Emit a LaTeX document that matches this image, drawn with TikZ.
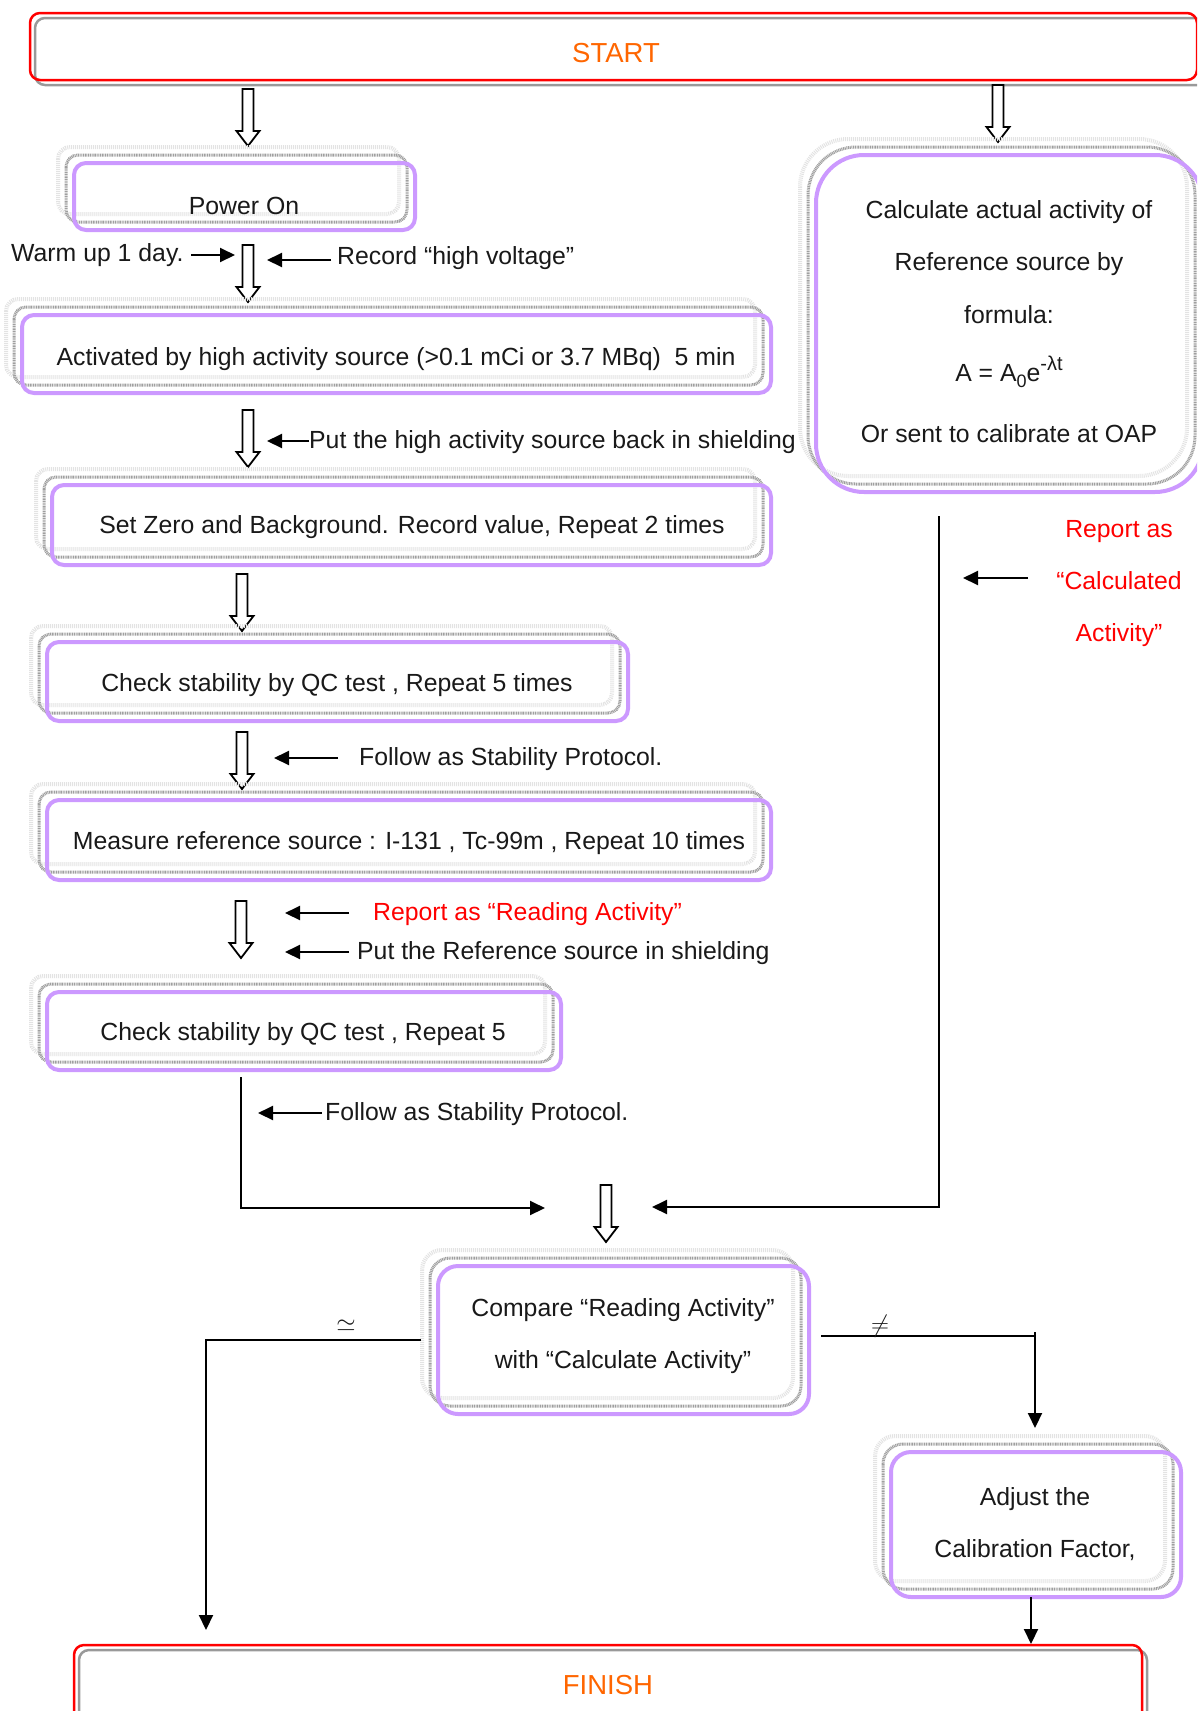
\documentclass[tikz,border=0pt]{standalone}
\usepackage{fontspec}
\setmainfont{Liberation Sans}
\usetikzlibrary{arrows.meta,calc}
\definecolor{lavender}{RGB}{204,153,255}
\definecolor{startorange}{RGB}{255,102,0}
\def\hollowdown(#1,#2){\draw[hollow] (#1-5.5,#2) -- (#1+5.5,#2) -- (#1+5.5,#2+42) -- (#1+11.5,#2+42) -- (#1,#2+57) -- (#1-11.5,#2+42) -- (#1-5.5,#2+42) -- cycle;}
\def\layerbox(#1,#2)(#3,#4)[#5]{%
	\draw[lightlayer, rounded corners=#5] (#1-16,#2-16) rectangle (#3-16,#4-16);
	\draw[darklayer, rounded corners=#5] (#1-8,#2-8) rectangle (#3-8,#4-8);
	\draw[purpleline, rounded corners=#5] (#1,#2) rectangle (#3,#4);}

\begin{document}
\begin{tikzpicture}[x=1pt, y=-1pt,
	txt/.style={font=\fontsize{24.8}{52}\selectfont, text=black!90, inner sep=0pt, align=center},
	redtxt/.style={txt, text=red},
	endtxt/.style={font=\fontsize{27.5}{30}\selectfont, text=startorange, inner sep=0pt},
	conn/.style={line width=2pt, -{Triangle[length=15pt, width=14pt]}},
	hollow/.style={line width=1.8pt, fill=white, line join=miter},
	lightlayer/.style={draw=gray!22, line width=4pt, dash pattern=on 1pt off 1pt},
	darklayer/.style={draw=gray!75, line width=3pt, dash pattern=on 1pt off 0.7pt},
	purpleline/.style={draw=lavender, line width=4pt},
	redframe/.style={draw=red, line width=2.5pt, rounded corners=10pt},
	grayframe/.style={draw=gray!80, line width=2.5pt, rounded corners=10pt}]
		%%%%% FRAME %%%%%
		\path[use as bounding box, clip] (0,0) rectangle (1197,1711);
		\fill[white] (0,0) rectangle (1197,1711);
		
		%%%%% START %%%%%
		\draw[grayframe] (35,18) rectangle (1210,85);
		\draw[redframe] (30,13) rectangle (1197,80);
		\node[endtxt] (start) at (616,53) {START};
		
		\hollowdown(248,89);
		\hollowdown(998,85);
		
		%%%%% LEFT COLUMN %%%%%
		\layerbox(74,163)(415,230)[12pt];
		\node[txt] (power) at (244,206) {Power On};
		
		\node[txt, anchor=west] (warmup) at (11,255) {Warm up 1 day.};
		\node[txt, anchor=west] (record) at (337,258) {Record “high voltage”};
		\draw[conn] (191,255) -- (235,255);
		\hollowdown(248,245);
		\draw[conn] ([xshift=-6pt, yshift=-2pt]record.west) -- ++(-64,0);
		
		\layerbox(22,315)(771,393)[12pt];
		\node[txt] (activ) at (396,359) {Activated by high activity source (>0.1 mCi or 3.7 MBq)\ \ 5 min};
		
		\hollowdown(248,410);
		\node[txt, anchor=west] (putback) at (309,442) {Put the high activity source back in shielding};
		\draw[conn] ([yshift=1pt]putback.west) -- ++(-42,0);
		
		\layerbox(52,485)(771,565)[12pt];
		\node[txt] (setzero) at (412,527) {Set Zero and Background. Record value, Repeat 2 times};
		
		\hollowdown(242,574);
		
		\layerbox(47,642)(628,721)[12pt];
		\node[txt] (check1) at (337,685) {Check stability by QC test , Repeat 5 times};
		
		\hollowdown(242,732);
		\node[txt, anchor=west] (follow1) at (359,759) {Follow as Stability Protocol.};
		\draw[conn] ([xshift=-21pt, yshift=1pt]follow1.west) -- ++(-64,0);
		
		\layerbox(47,800)(771,880)[12pt];
		\node[txt] (measure) at (409,843) {Measure reference source : I-131 , Tc-99m , Repeat 10 times};
		
		\hollowdown(241,901);
		\node[redtxt, anchor=west] (reading) at (373,914) {Report as “Reading Activity”};
		\node[txt, anchor=west] (putref) at (357,953) {Put the Reference source in shielding};
		\draw[conn] ([xshift=-24pt, yshift=1pt]reading.west) -- ++(-64,0);
		\draw[conn] ([xshift=-8pt, yshift=1pt]putref.west) -- ++(-64,0);
		
		\layerbox(47,992)(561,1070)[12pt];
		\node[txt] (check2) at (303,1034) {Check stability by QC test , Repeat 5};
		
		\node[txt, anchor=west] (follow2) at (325,1114) {Follow as Stability Protocol.};
		\draw[conn] ([xshift=-3pt, yshift=1pt]follow2.west) -- ++(-64,0);
		\coordinate (chkfoot) at (241,1077);
		\coordinate (leftjoin) at (241,1208);
		\draw[conn] (chkfoot) -- (leftjoin) -- ++(304,0);
		
		%%%%% RIGHT COLUMN %%%%%
		\layerbox(816,155)(1203,492)[48pt];
		\node[txt] (calc1) at (1009,212) {Calculate actual activity of};
		\node[txt] (calc2) at (1009,264.5) {Reference source by};
		\node[txt] (calc3) at (1009,314.5) {formula:};
		\node[txt] (calc4) at (1009,372) {A = A\raisebox{-6pt}{\fontsize{18}{18}\selectfont 0}e\raisebox{11pt}{\fontsize{20}{20}\selectfont -λt}};
		\node[txt] (calc5) at (1009,433.5) {Or sent to calibrate at OAP};
		
		\node[redtxt] (calcrep) at (1119,583.5) {Report as\\“Calculated\\Activity”};
		\draw[conn] (1028,578) -- (963,578);
		\coordinate (calcfoot) at (939,516);
		\coordinate (rightjoin) at (939,1207);
		\draw[conn] (calcfoot) -- (rightjoin) -- (652,1207);
		
		\hollowdown(606,1185);
		
		%%%%% COMPARE %%%%%
		\layerbox(438,1266)(809,1414)[20pt];
		\node[txt] (compare) at (623,1336.5) {Compare “Reading Activity”\\with “Calculate Activity”};
		
		\coordinate (eqbend) at (206,1340);
		\draw[conn] (421,1340) -- (eqbend) -- (206,1630);
		\node[txt, font=\fontsize{30}{30}\selectfont] (approx) at (346,1326) {$\simeq$};
		
		\coordinate (neqbend) at (1035,1336);
		\draw[conn] (821,1336) -- (neqbend) -- (1035,1428);
		\draw[line width=2pt] (neqbend) -- ++(0,-4);
		\node[txt, font=\fontsize{30}{30}\selectfont] (noteq) at (880,1326) {$\neq$};
		
		\layerbox(891,1452)(1181,1597)[20pt];
		\node[txt] (adjust) at (1035,1524.5) {Adjust the\\Calibration Factor,};
		\draw[conn] (1031,1597) -- (1031,1644);
		
		%%%%% FINISH %%%%%
		\draw[grayframe] (79,1650) rectangle (1147,1740);
		\draw[redframe] (74,1645) rectangle (1142,1735);
		\node[endtxt] (finish) at (608,1685) {FINISH};
		
		%%%%% END %%%%%
\end{tikzpicture}
\end{document}
